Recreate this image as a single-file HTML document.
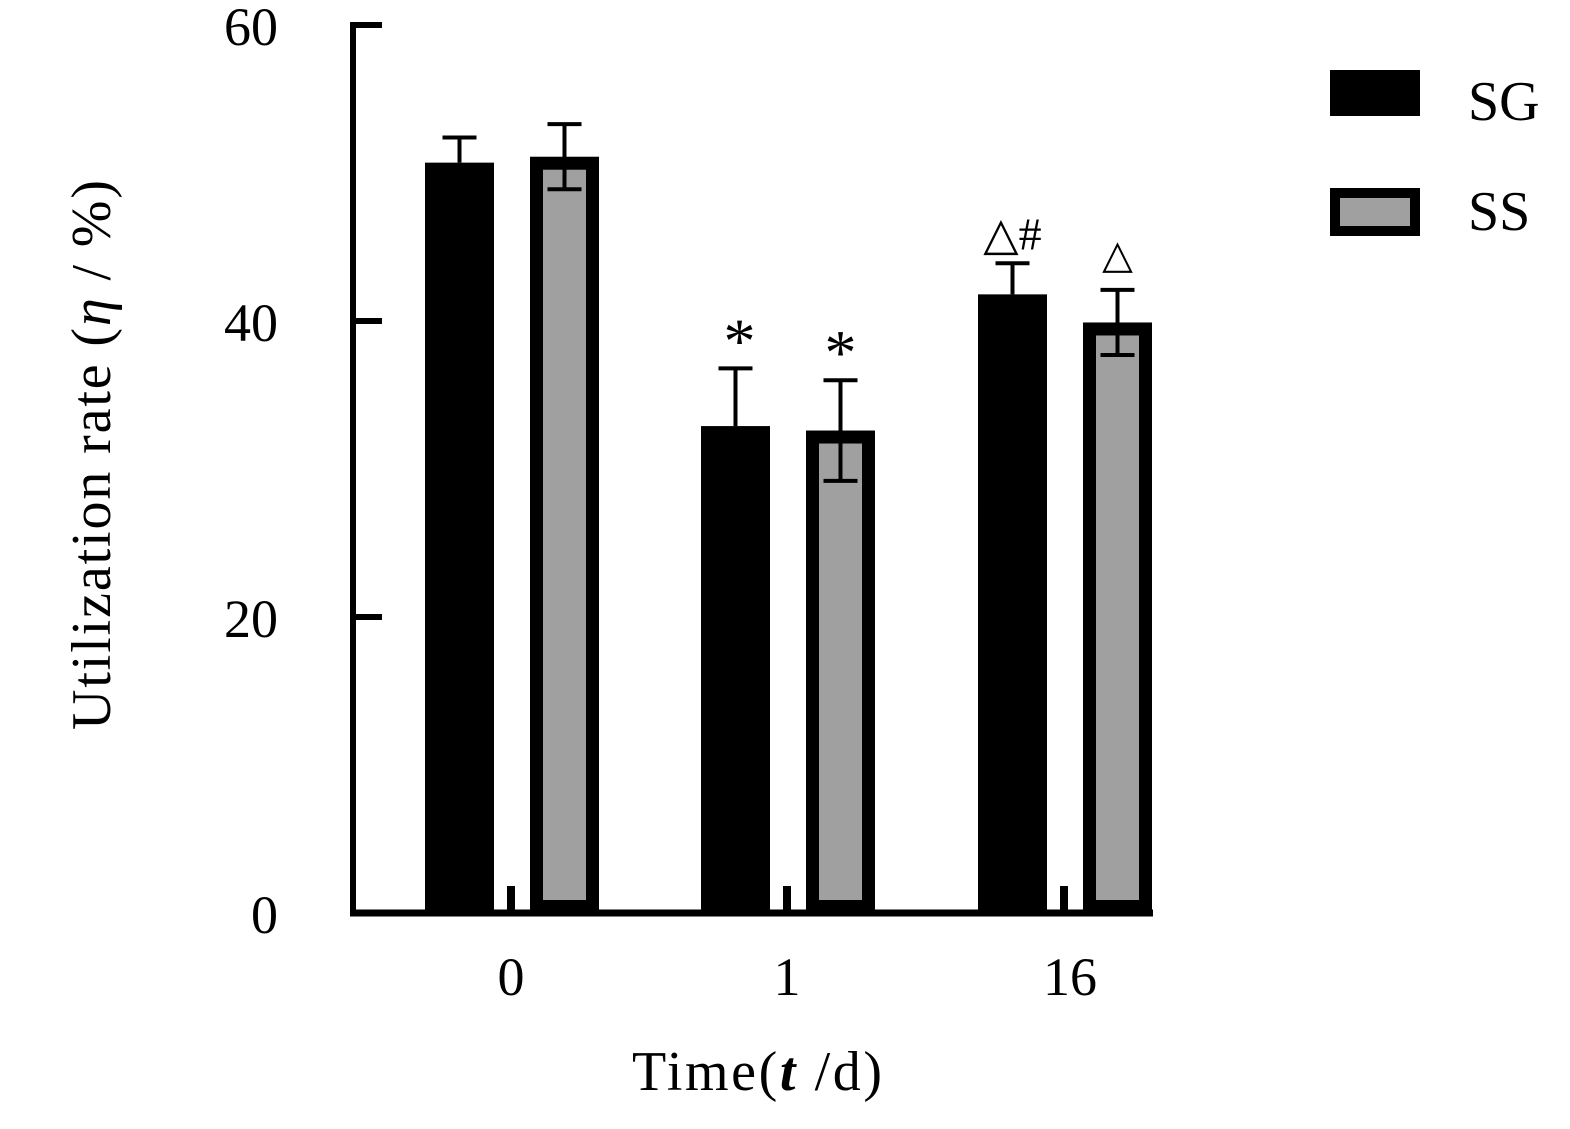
<!DOCTYPE html>
<html><head><meta charset="utf-8"><style>
html,body{margin:0;padding:0;background:#fff;}
svg{display:block;font-family:"Liberation Serif",serif;}
</style></head><body>
<svg id="chart" width="1570" height="1129" viewBox="0 0 1570 1129">
<g id="axes"></g>
<g id="bars"></g>
<text transform="translate(110,455) rotate(-90)" text-anchor="middle" font-size="56" textLength="550" lengthAdjust="spacing">Utilization rate (<tspan font-style="italic">η</tspan> / %)</text>
<text x="757" y="1090" text-anchor="middle" font-size="56" textLength="250" lengthAdjust="spacing">Time(<tspan font-style="italic" font-weight="bold">t</tspan> /d)</text>
<g>
<rect x="1330" y="70" width="90" height="46" fill="#000"/>
<text x="1468" y="120" font-size="56">SG</text>
<rect x="1335" y="193" width="80" height="38" fill="#a0a0a0" stroke="#000" stroke-width="10"/>
<text x="1468" y="230" font-size="56">SS</text>
</g>
</svg>
<script>
const categories=["0","1","16"];
const sgValues=[50.7,32.9,41.8];
const sgErr=[1.7,3.9,2.1];
const ssValues=[51.1,32.6,39.9];
const ssErr=[2.2,3.4,2.2];
const yTicks=[0,20,40,60];
const sgMarks=["","*","△#"];
const ssMarks=["","*","△"];
const NS="http://www.w3.org/2000/svg";
const y0=913,pxPer=14.8;
function y(v){return y0-v*pxPer;}
const groupCenters=[511,787,1064];
function el(t,a,p){const e=document.createElementNS(NS,t);for(const k in a)e.setAttribute(k,a[k]);p.appendChild(e);return e;}
const ax=document.getElementById('axes'),bg=document.getElementById('bars');
let e=el('line',{x1:353,y1:y(60)-3,x2:353,y2:y0+3,stroke:'#000','stroke-width':6},ax);

e=el('line',{x1:350,y1:y0,x2:1153,y2:y0,stroke:'#000','stroke-width':7},ax);

yTicks.forEach(t=>{
 if(t>0){const l=el('line',{x1:353,y1:y(t),x2:382,y2:y(t),stroke:'#000','stroke-width':6},ax);
 }
 const tx=el('text',{x:278,y:y(t)+20,'text-anchor':'end','font-size':54},ax);tx.textContent=t;
 
});
categories.forEach((c,i)=>{
 const cx=groupCenters[i];
 const tk=el('line',{x1:cx,y1:886,x2:cx,y2:y0,stroke:'#000','stroke-width':8},ax);
 
 const tl=el('text',{x:cx+(i==2?6:0),y:995,'text-anchor':'middle','font-size':54},ax);tl.textContent=c;
 
 const sx=cx-86,w=69;
 const sgTop=y(sgValues[i]);
 const sgE=y(sgValues[i]+sgErr[i]);
 const eb=el('path',{d:`M${sx+w/2},${sgTop} V${sgE} M${sx+w/2-17},${sgE} H${sx+w/2+17}`,stroke:'#000','stroke-width':4,fill:'none'},bg);
 
 const r=el('rect',{x:sx,y:sgTop,width:w,height:y0-sgTop,fill:'#000'},bg);
 
 const star=sgMarks[i]==="*";
 const m=el('text',{x:sx+w/2+(star?4:0),y:sgE+(star?-6:-14),'text-anchor':'middle','font-size':star?64:46},bg);m.textContent=sgMarks[i];
 
 const qx=cx+19,qw=69,b=13;
 const ssTop=y(ssValues[i]);
 const r2=el('rect',{x:qx+b/2,y:ssTop+b/2,width:qw-b,height:y0-ssTop-b,fill:'#a0a0a0',stroke:'#000','stroke-width':b},bg);
 
 const e1=y(ssValues[i]+ssErr[i]),e2=y(ssValues[i]-ssErr[i]),mx=qx+qw/2;
 const eb2=el('path',{d:`M${mx},${e1} V${e2} M${mx-17},${e1} H${mx+17} M${mx-17},${e2} H${mx+17}`,stroke:'#000','stroke-width':4,fill:'none'},bg);
 
 const star2=ssMarks[i]==="*";
 const m2=el('text',{x:mx,y:e1+(star2?-6:-22),'text-anchor':'middle','font-size':star2?64:40},bg);m2.textContent=ssMarks[i];
 
});
</script>
</body></html>
